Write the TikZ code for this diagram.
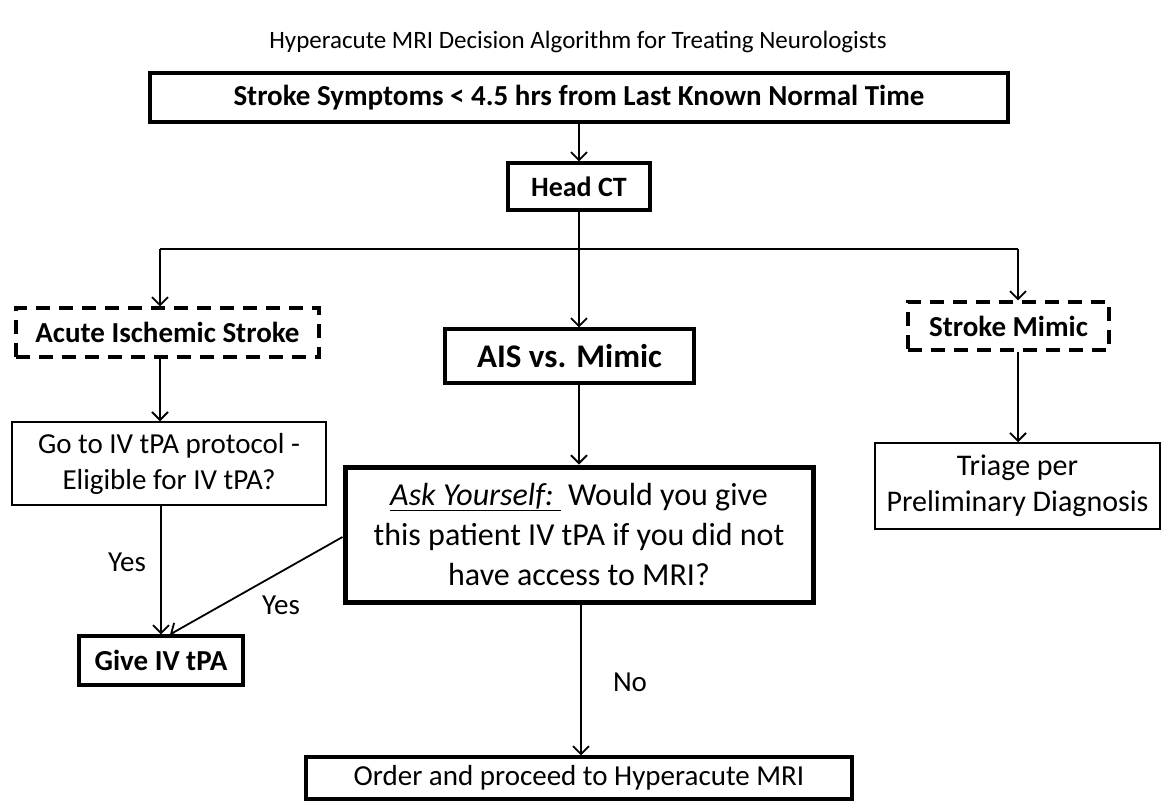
\documentclass[tikz,border=0pt]{standalone}
\usepackage{fontspec}
\setmainfont{Carlito}
\usetikzlibrary{arrows.meta}
\newcommand{\fs}[1]{\fontsize{#1}{#1}\selectfont}
\begin{document}
\begin{tikzpicture}[x=1pt,y=-1pt,
  boldbox/.style={draw,line width=3.2pt,inner sep=0pt,font=\fs{29}\bfseries},
  thinbox/.style={draw,line width=1.5pt,inner sep=0pt,align=center,font=\fontsize{29}{36}\selectfont},
  dashbox/.style={draw,line width=3.2pt,dash pattern=on 14pt off 9pt,inner sep=0pt,font=\fs{29}\bfseries},
  askbox/.style={draw,line width=5pt,inner sep=0pt,align=center,font=\fontsize{32}{40}\selectfont},
  conn/.style={line width=1.8pt},
  arr/.style={line width=1.8pt,-{Straight Barb[length=8pt,width=16pt,line width=1.8pt]}},
  lbl/.style={font=\fs{29},inner sep=0pt}]
\fill[white] (0,0) rectangle (1162,804);
\useasboundingbox (0,0) rectangle (1162,804);

\node[font=\fs{25},inner sep=0pt] (title) at (578,42) {Hyperacute MRI Decision Algorithm for Treating Neurologists};

\node[boldbox,minimum width=858,minimum height=49] (top) at (579,97.5) {Stroke Symptoms {<} 4.5 hrs from Last Known Normal Time};
\node[boldbox,font=\fs{28}\bfseries,minimum width=142,minimum height=47] (ct) at (579,186.5) {Head CT};

\node[dashbox,minimum width=303,minimum height=49] (ais) at (167.5,332.5) {Acute Ischemic Stroke};
\node[boldbox,font=\fs{33}\bfseries,minimum width=249,minimum height=54] (vs) at (569.5,356) {AIS vs. Mimic};
\node[dashbox,minimum width=201,minimum height=48] (mimic) at (1008.5,326) {Stroke Mimic};

\node[thinbox,minimum width=314,minimum height=83] (goto) at (169,463.5) {Go to IV tPA protocol -\\Eligible for IV tPA?};
\node[thinbox,font=\fontsize{30}{36}\selectfont,minimum width=285,minimum height=86] (triage) at (1017.5,486) {Triage per\\Preliminary Diagnosis};

\node[askbox,minimum width=468,minimum height=135] (ask) at (579,534.5) {\underline{\textit{Ask Yourself:}\ }\ Would you give\\this patient IV tPA if you did not\\have access to MRI?};

\node[boldbox,minimum width=164,minimum height=49] (give) at (161,660.5) {Give IV tPA};
\node[draw,line width=3.2pt,inner sep=0pt,font=\fs{29},minimum width=546,minimum height=42] (order) at (579,778) {Order and proceed to Hyperacute MRI};

% connectors
\coordinate (jl) at (160,249);
\coordinate (jm) at (579,249);
\coordinate (jr) at (1018,249);
\draw[arr] (top.south -| ct.north) -- (ct.north);
\draw[conn] (ct.south) -- (jm);
\draw[conn] (jl) -- (jr);
\draw[arr] (jl) -- (jl |- ais.north);
\draw[arr] (jm) -- (jm |- vs.north);
\draw[arr] (jr) -- (jr |- mimic.north);
\draw[arr] (jl |- ais.south) -- (jl |- goto.north);
\draw[arr] (jr |- mimic.south) -- (jr |- triage.north);
\draw[arr] (jm |- vs.south) -- (jm |- ask.north);
\draw[arr] (goto.south -| give.north) -- (give.north);
\draw[arr] (ask.west |- 0,537) -- ([xshift=9pt]give.north);
\draw[arr] (ask.south -| 581,0) -- (order.north -| 581,0);

\node[lbl] (yes1) at (127,562) {Yes};
\node[lbl] (yes2) at (281,605) {Yes};
\node[lbl] (no) at (630,682) {No};
\end{tikzpicture}
\end{document}
